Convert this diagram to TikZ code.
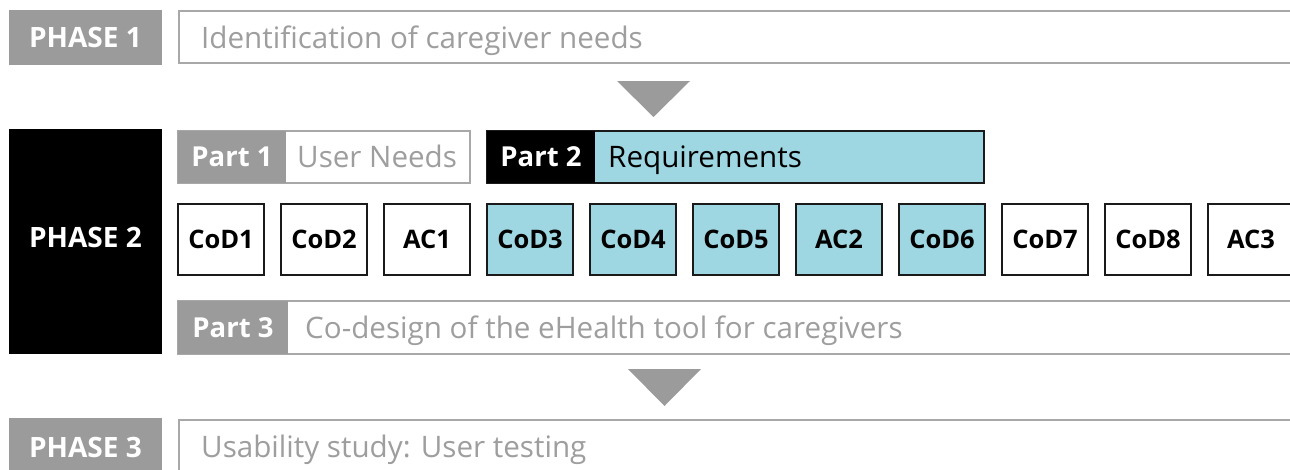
\documentclass[tikz,border=0pt]{standalone}
\usepackage{fontspec}
\setmainfont{Open Sans}
\definecolor{phgray}{HTML}{9B9B9B}
\definecolor{rulegray}{HTML}{A8A8A8}
\definecolor{txtgray}{HTML}{9E9E9E}
\definecolor{reqblue}{HTML}{9ED6E1}
\definecolor{ink}{HTML}{1A1A1A}
\begin{document}
\begin{tikzpicture}[x=1pt,y=-1pt,
  box/.style={rectangle, anchor=north west, inner sep=0pt, outer sep=0pt},
  phase/.style={box, minimum width=153pt, text=white,
    font=\bfseries\fontsize{28}{30}\selectfont},
  band/.style={box, draw=rulegray, line width=2pt, fill=white},
  bandtext/.style={anchor=base west, inner sep=0pt, text=txtgray,
    font=\fontsize{29.6}{32}\selectfont},
  tag/.style={box, minimum height=52pt, text=white,
    font=\bfseries\fontsize{27.5}{30}\selectfont},
  session/.style={box, draw=ink, line width=2.4pt, minimum width=86pt,
    minimum height=71pt, font=\bfseries\fontsize{25.5}{28}\selectfont},
  flowarrow/.style={fill=phgray}
]
\path[use as bounding box] (0,0) rectangle (1290,469);
\clip (0,0) rectangle (1290,469);

% ---- Phase 1 ----
\node[phase, fill=phgray, minimum height=55pt] (ph1) at (9,10) {PHASE 1};
\node[band, minimum width=1130pt, minimum height=52pt] (b1) at (179,11) {};
\node[bandtext] (b1t) at (201,48) {Identification of caregiver needs};

\fill[flowarrow] (617,81) -- (690,81) -- (653.5,117) -- cycle;

% ---- Phase 2 ----
\node[phase, fill=black, minimum height=225pt] (ph2) at (9,129) {};
\node[text=white, font=\bfseries\fontsize{28}{30}\selectfont] (ph2t) at (85.5,237) {PHASE 2};

% Part 1
\node[band, minimum width=292pt, minimum height=52pt] (pt1) at (178,131) {};
\node[tag, fill=phgray, minimum width=108pt] (pt1tag) at (178,131) {Part 1};
\node[bandtext] (pt1t) at (297,167) {User Needs};

% Part 2
\node[box, draw=ink, line width=2.4pt, fill=reqblue, minimum width=497pt,
      minimum height=52pt] (pt2) at (487,131) {};
\node[tag, fill=black, minimum width=108pt] (pt2tag) at (487,131) {Part 2};
\node[bandtext, text=black] (pt2t) at (608,167) {Requirements};

% Sessions
\foreach \xx/\lab/\col [count=\i] in {
    178/CoD1/white, 281/CoD2/white, 384/AC1/white,
    487/CoD3/reqblue, 590/CoD4/reqblue, 693/CoD5/reqblue,
    796/AC2/reqblue, 899/CoD6/reqblue,
    1002/CoD7/white, 1105/CoD8/white, 1208/AC3/white}
  \node[session, fill=\col] (s\i) at (\xx,204) {\lab};

% Part 3
\node[band, minimum width=1130pt, minimum height=53pt] (pt3) at (178,301) {};
\node[tag, fill=phgray, minimum width=110pt, minimum height=53pt] (pt3tag) at (178,301) {Part 3};
\node[bandtext] (pt3t) at (305,338) {Co-design of the eHealth tool for caregivers};

\fill[flowarrow] (628,369) -- (701,369) -- (664.5,406) -- cycle;

% ---- Phase 3 ----
\node[phase, fill=phgray, minimum height=70pt] (ph3) at (9,418) {};
\node[text=white, font=\bfseries\fontsize{28}{30}\selectfont] (ph3t) at (85.5,447) {PHASE 3};
\node[band, minimum width=1130pt, minimum height=70pt] (b3) at (179,420) {};
\node[bandtext] (b3t) at (201,457) {Usability study: User testing};
\end{tikzpicture}
\end{document}
